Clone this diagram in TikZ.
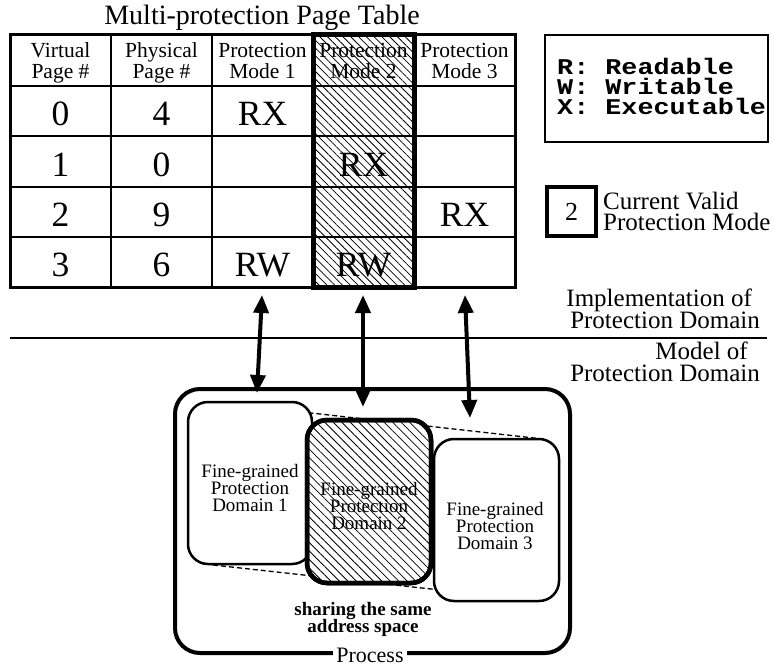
\documentclass[tikz,border=0pt]{standalone}
\usepackage{fontspec}
\setmainfont{Liberation Serif}
\setmonofont{Liberation Mono}
\newfontfamily\legendfont[FakeStretch=1.19]{Liberation Mono}
\usetikzlibrary{arrows.meta,patterns.meta}
\newcommand\fsz[2]{\fontsize{#1}{#2}\selectfont}
\begin{document}
\begin{tikzpicture}[x=1pt,y=-1pt,
  hdr/.style={font=\fsz{21.5}{21.5}, inner sep=0pt, anchor=base},
  cell/.style={font=\fsz{35.5}{35.5}, inner sep=0pt},
  gridline/.style={line width=2pt},
  hatch/.style={pattern={Lines[angle=-45,distance=5.5pt,line width=0.8pt]}},
  dom/.style={draw, line width=2.5pt, rounded corners=20pt, fill=white},
  domtxt/.style={font=\fsz{19}{17}, align=center, inner sep=0pt},
  dbl/.style={line width=4pt, {Triangle[width=15pt,length=18pt]}-{Triangle[width=15pt,length=18pt]}},
  side/.style={font=\fsz{25}{25}, inner sep=0pt, anchor=base east},
  leg/.style={font=\legendfont\bfseries\fsz{22.5}{22.5}, inner sep=0pt, anchor=base west}
]
\useasboundingbox (0,0) rectangle (774,666);

% ---------- title ----------
\node[font=\fsz{28}{28}, inner sep=0pt, anchor=base] (title) at (262,25) {Multi-protection Page Table};

% ---------- table ----------
\fill[hatch] (313,35) rectangle (414,287);
\draw[gridline] (10,86) -- (515,86) (10,136) -- (515,136) (10,187) -- (515,187) (10,237) -- (515,237);
\draw[gridline] (111,35) -- (111,287) (212,35) -- (212,287) (313,35) -- (313,287) (414,35) -- (414,287);
\draw[line width=3pt] (10,35) rectangle (515,287);
\draw[line width=5pt] (313,35) rectangle (414,287);

\node[hdr] (h1a) at (60.5,58) {Virtual};
\node[hdr] (h1b) at (60.5,79) {Page \#};
\node[hdr] (h2a) at (161.5,58) {Physical};
\node[hdr] (h2b) at (161.5,79) {Page \#};
\node[hdr] (h3a) at (262.5,58) {Protection};
\node[hdr] (h3b) at (262.5,79) {Mode 1};
\node[hdr] (h4a) at (363.5,58) {Protection};
\node[hdr] (h4b) at (363.5,79) {Mode 2};
\node[hdr] (h5a) at (464.5,58) {Protection};
\node[hdr] (h5b) at (464.5,79) {Mode 3};

\node[cell] (v0) at (60.5,113.5) {0};
\node[cell] (v1) at (60.5,164.5) {1};
\node[cell] (v2) at (60.5,215) {2};
\node[cell] (v3) at (60.5,265) {3};
\node[cell] (p0) at (161.5,113.5) {4};
\node[cell] (p1) at (161.5,164.5) {0};
\node[cell] (p2) at (161.5,215) {9};
\node[cell] (p3) at (161.5,265) {6};
\node[cell] (m10) at (262.5,113.5) {RX};
\node[cell] (m13) at (262.5,265) {RW};
\node[cell] (m21) at (363.5,164.5) {RX};
\node[cell] (m23) at (363.5,265) {RW};
\node[cell] (m32) at (464.5,215) {RX};

% ---------- legend ----------
\node[leg] (l1) at (557,75) {R: Readable};
\node[leg] (l2) at (557,95) {W: Writable};
\node[leg] (l3) at (557,115) {X: Executable};
\draw[line width=2.5pt] (545,35) rectangle (768,142);

\draw[line width=4pt] (547,187) rectangle (596,236);
\node[font=\fsz{26}{26}, inner sep=0pt] (two) at (571.5,211.5) {2};
\node[font=\fsz{25}{25}, inner sep=0pt, anchor=base west] (cv) at (603,209) {Current Valid};
\node[font=\fsz{25}{25}, inner sep=0pt, anchor=base west] (pm) at (603,230) {Protection Mode};

% ---------- separator ----------
\node[side] (impl1) at (752,306.5) {Implementation of};
\node[side] (impl2) at (760,328) {Protection Domain};
\draw[line width=2pt] (10,337.5) -- (767,337.5);
\node[side] (model1) at (748,359) {Model of};
\node[side] (model2) at (760,381) {Protection Domain};

% ---------- process ----------
\draw[line width=4pt, rounded corners=25pt] (175,389) rectangle (570,653);
\node[font=\fsz{22}{22}, fill=white, inner ysep=0pt, inner xsep=3pt] (proc) at (370,655) {Process};

\coordinate (d1tl) at (213,402);
\coordinate (d3tr) at (543,439);
\coordinate (d1bl) at (213,565);
\coordinate (d3br) at (540,601);
\draw[line width=1.3pt, dash pattern=on 5pt off 3pt] (d1tl) -- (d3tr);
\draw[line width=1.3pt, dash pattern=on 5pt off 3pt] (d1bl) -- (d3br);

\draw[dom] (188,402) rectangle (312,564);
\draw[dom] (434,439) rectangle (559,601);
\draw[dom, line width=4.5pt] (307,420) rectangle (431,583);
\fill[pattern={Lines[angle=-45,distance=6pt,line width=0.8pt]}, rounded corners=18pt] (309,422) rectangle (429,581);
\draw[line width=4.5pt, rounded corners=20pt] (307,420) rectangle (431,583);

\node[domtxt] (t1) at (250,488) {Fine-grained\\Protection\\Domain 1};
\node[domtxt] (t2) at (369,506) {Fine-grained\\Protection\\Domain 2};
\node[domtxt] (t3) at (495,526) {Fine-grained\\Protection\\Domain 3};

\node[font=\bfseries\fsz{19}{19}, inner sep=0pt, anchor=base] (share1) at (363,615.5) {sharing the same};
\node[font=\bfseries\fsz{19}{19}, inner sep=0pt, anchor=base] (share2) at (363,632) {address space};

% ---------- arrows ----------
\coordinate (a1t) at (262,295);
\coordinate (a1b) at (257,393);
\coordinate (a2t) at (363,295);
\coordinate (a2b) at (363,407);
\coordinate (a3t) at (465,295);
\coordinate (a3b) at (470,418);
\draw[dbl] (a1t) -- (a1b);
\draw[dbl] (a2t) -- (a2b);
\draw[dbl] (a3t) -- (a3b);
\end{tikzpicture}
\end{document}
